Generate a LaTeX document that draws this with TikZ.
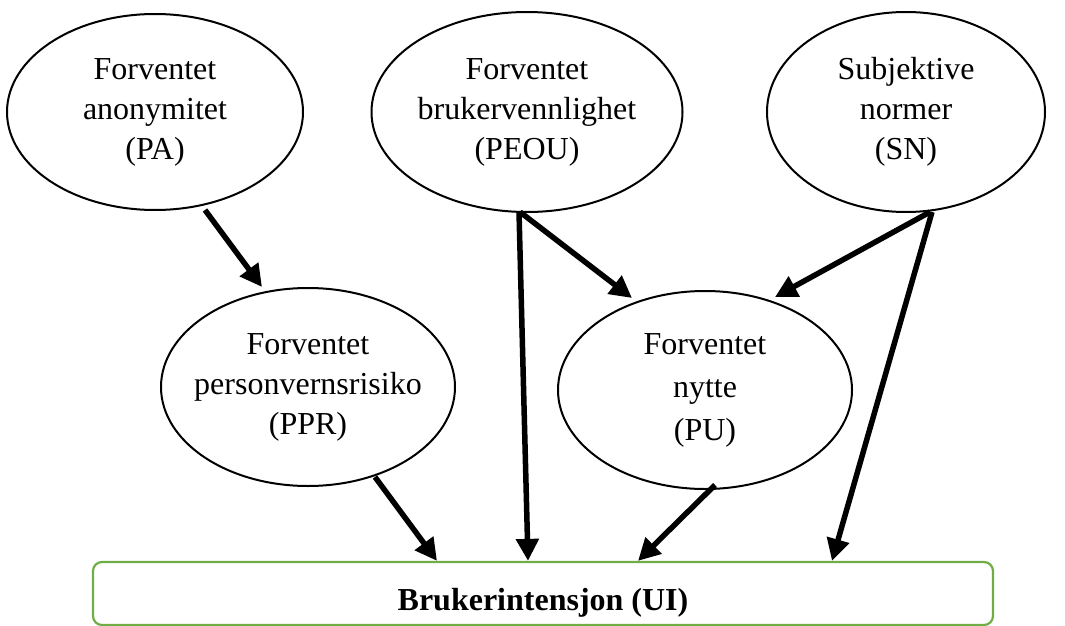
\documentclass[tikz,border=0pt]{standalone}
\usepackage{fontspec}
\setmainfont{Liberation Serif}
\usetikzlibrary{shapes.geometric,arrows.meta,calc}
\definecolor{boxgreen}{RGB}{112,173,71}
\begin{document}
\begin{tikzpicture}[x=1pt,y=-1pt,
  ell/.style={draw=black,line width=2pt,ellipse,inner sep=-30pt,align=center,
    font=\fontsize{32}{40}\selectfont},
  conn/.style={line width=5.5pt,-{Triangle[length=22pt,width=22pt]}},
  uibox/.style={draw=boxgreen,line width=2.2pt,rounded corners=9pt,
    minimum width=900pt,minimum height=63pt,inner sep=0pt,
    text height=33pt,text depth=0pt,
    font=\fontsize{32}{40}\selectfont\bfseries}]
\useasboundingbox (0,0) rectangle (1065,626);
\node[ell,minimum width=296pt,minimum height=196pt] (pa) at (155,112)
  {Forventet\\anonymitet\\(PA)};
\node[ell,minimum width=311pt,minimum height=200pt] (peou) at (527,112)
  {Forventet\\brukervennlighet\\(PEOU)};
\node[ell,minimum width=278pt,minimum height=200pt] (sn) at (906,112)
  {Subjektive\\normer\\(SN)};
\node[ell,minimum width=294pt,minimum height=198pt] (ppr) at (308,387)
  {Forventet\\personvernsrisiko\\(PPR)};
\node[ell,minimum width=294pt,minimum height=198pt,
  font=\fontsize{32}{43}\selectfont] (pu) at (705,390)
  {Forventet\\nytte\\(PU)};
\node[uibox] (ui) at (543,593.5) {Brukerintensjon (UI)};
\draw[conn] ($(pa)+(50,98)$) -- ($(ppr)+(-46,-100)$);
\draw[conn] ($(peou)+(-7,100)$) -- ($(pu)+(-73,-92)$);
\draw[conn] ($(peou)+(-8,100)$) -- ($(ui.north)+(-15,0)$);
\draw[conn] ($(sn)+(24,100)$) -- ($(pu)+(70,-93)$);
\draw[conn] ($(sn)+(26,100)$) -- ($(ui.north)+(289,0)$);
\draw[conn] ($(ppr)+(67,90)$) -- ($(ui.north)+(-106,0)$);
\draw[conn] ($(pu)+(10,95)$) -- ($(ui.north)+(95,0)$);
\end{tikzpicture}
\end{document}
